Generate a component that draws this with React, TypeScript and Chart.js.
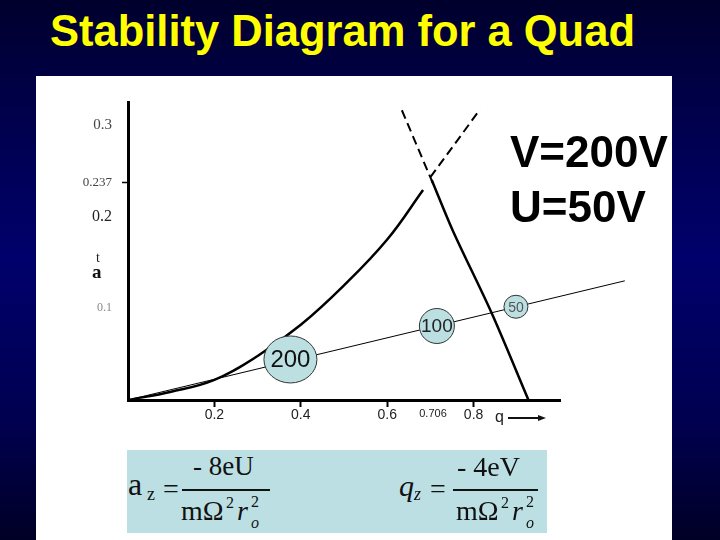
import React, { useEffect, useRef } from 'react';
import { Chart, registerables } from 'chart.js';
Chart.register(...registerables);

// ---- data (q on x, a on y) ----
const leftBoundaryQ = [0, 0.1, 0.2, 0.3, 0.4, 0.5, 0.6, 0.683];
const leftBoundaryA = [0, 0.009, 0.022, 0.048, 0.082, 0.125, 0.175, 0.229];
const rightBoundaryQ = [0.703, 0.753, 0.842, 0.927];
const rightBoundaryA = [0.24, 0.1835, 0.0946, 0.0];
const dashUpLeftQ = [0.634, 0.706];
const dashUpLeftA = [0.316, 0.236];
const dashUpRightQ = [0.7, 0.815];
const dashUpRightA = [0.243, 0.317];
const scanLineQ = [0, 1.15];
const scanLineA = [0, 0.13];
const massLabels = ['200', '100', '50'];
const massQ = [0.376, 0.715, 0.898];
const massA = [0.0442, 0.0807, 0.1017];
const xTickValues = [0.2, 0.4, 0.6, 0.706, 0.8];
const xTickLabels = ['0.2', '0.4', '0.6', '0.706', '0.8'];
const yTickValues = [0.1, 0.2, 0.237, 0.3];
const yTickLabels = ['0.1', '0.2', '0.237', '0.3'];

const pts = (q: number[], a: number[]) => q.map((v, i) => ({ x: v, y: a[i] }));

const bubbleStyle = [
  { rx: 26.5, ry: 23.5, fs: 24, color: '#111' },
  { rx: 17.5, ry: 17.5, fs: 19, color: '#222' },
  { rx: 12, ry: 11.5, fs: 14, color: '#555' },
];

const bubblePlugin = {
  id: 'massBubbles',
  afterDatasetsDraw(chart: any) {
    const idx = chart.data.datasets.findIndex((d: any) => d.label === 'mass');
    const meta = chart.getDatasetMeta(idx);
    const ctx = chart.ctx;
    meta.data.forEach((pt: any, i: number) => {
      const s = bubbleStyle[i];
      ctx.save();
      ctx.beginPath();
      ctx.ellipse(pt.x, pt.y, s.rx, s.ry, 0, 0, Math.PI * 2);
      ctx.fillStyle = '#bcdfe2';
      ctx.fill();
      ctx.lineWidth = 1;
      ctx.strokeStyle = '#333';
      ctx.stroke();
      ctx.fillStyle = s.color;
      ctx.font = `${s.fs}px "Liberation Sans", Arial, sans-serif`;
      ctx.textAlign = 'center';
      ctx.textBaseline = 'middle';
      ctx.fillText(massLabels[i], pt.x, pt.y + 1);
      ctx.restore();
    });
  },
};

const T = (p: { x: number; b: number; fs: number; text: string; italic?: boolean; bold?: boolean; serif?: boolean; color?: string }) => (
  <span
    style={{
      position: 'absolute',
      left: p.x,
      top: p.b - (p.serif ? 0.8375 : 0.8465) * p.fs,
      fontSize: p.fs,
      lineHeight: 1,
      whiteSpace: 'pre',
      fontStyle: p.italic ? 'italic' : 'normal',
      fontWeight: p.bold ? 'bold' : 'normal',
      fontFamily: p.serif ? '"Liberation Serif", "Times New Roman", serif' : '"Liberation Sans", Arial, sans-serif',
      color: p.color || '#111',
    }}
  >
    {p.text}
  </span>
);

export default function App() {
  const canvasRef = useRef<HTMLCanvasElement | null>(null);

  useEffect(() => {
    document.body.style.margin = '0';
    const canvas = canvasRef.current;
    if (!canvas) return;
    const solid = { borderColor: '#000', pointRadius: 0, fill: false };
    const chart = new Chart(canvas, {
      type: 'line',
      data: {
        datasets: [
          { label: 'left', data: pts(leftBoundaryQ, leftBoundaryA), ...solid, borderWidth: 2.5, tension: 0.4 },
          { label: 'right', data: pts(rightBoundaryQ, rightBoundaryA), ...solid, borderWidth: 2.5, tension: 0.3 },
          { label: 'dashL', data: pts(dashUpLeftQ, dashUpLeftA), ...solid, borderWidth: 2, borderDash: [9, 5] },
          { label: 'dashR', data: pts(dashUpRightQ, dashUpRightA), ...solid, borderWidth: 2, borderDash: [9, 5] },
          { label: 'scan', data: pts(scanLineQ, scanLineA), ...solid, borderWidth: 1, clip: false },
          { label: 'mass', data: pts(massQ, massA), ...solid, borderWidth: 0, showLine: false, clip: false },
        ] as any,
      },
      options: {
        animation: false,
        responsive: false,
        devicePixelRatio: 1,
        layout: { padding: { top: 26, right: 112, bottom: 0, left: 0 } },
        plugins: { legend: { display: false }, tooltip: { enabled: false }, title: { display: false } },
        scales: {
          x: {
            type: 'linear',
            position: 'bottom',
            min: 0,
            max: 1.0,
            afterBuildTicks: (s: any) => {
              s.ticks = xTickValues.map((v) => ({ value: v }));
            },
            afterFit: (s: any) => {
              s.height = 46;
            },
            ticks: {
              autoSkip: false,
              maxRotation: 0,
              padding: 0,
              callback: (v: any) => xTickLabels[xTickValues.indexOf(Number(v))] ?? '',
              color: '#222',
              font: (c: any) => ({
                family: '"Liberation Sans", Arial, sans-serif',
                size: c.tick && c.tick.value === 0.706 ? 11 : 14,
              }),
            },
            grid: {
              display: true,
              drawOnChartArea: false,
              drawTicks: true,
              tickLength: 7,
              tickWidth: 2,
              tickColor: (c: any) => (c.tick && c.tick.value === 0.706 ? 'rgba(0,0,0,0)' : '#000'),
            },
            border: { display: true, color: '#000', width: 3 },
          },
          y: {
            type: 'linear',
            position: 'left',
            min: 0,
            max: 0.325,
            afterBuildTicks: (s: any) => {
              s.ticks = yTickValues.map((v) => ({ value: v }));
            },
            afterFit: (s: any) => {
              s.width = 92;
            },
            ticks: {
              autoSkip: false,
              padding: 10,
              callback: (v: any) => yTickLabels[yTickValues.indexOf(Number(v))] ?? '',
              color: (c: any) => {
                const v = c.tick && c.tick.value;
                return v === 0.1 ? '#888' : v === 0.2 ? '#222' : '#444';
              },
              font: (c: any) => {
                const v = c.tick && c.tick.value;
                return {
                  family: '"Liberation Serif", "Times New Roman", serif',
                  size: v === 0.2 ? 16 : v === 0.3 ? 15 : v === 0.1 ? 12 : 13,
                };
              },
            },
            grid: {
              display: true,
              drawOnChartArea: false,
              drawTicks: true,
              tickLength: 6,
              tickWidth: 1.5,
              tickColor: (c: any) => (c.tick && c.tick.value === 0.237 ? '#000' : 'rgba(0,0,0,0)'),
            },
            border: { display: true, color: '#000', width: 3 },
          },
        },
      } as any,
      plugins: [bubblePlugin],
    });
    return () => chart.destroy();
  }, []);

  return (
    <div
      style={{
        position: 'absolute',
        left: 0,
        top: 0,
        width: 720,
        height: 540,
        overflow: 'hidden',
        background: 'linear-gradient(180deg, #00002c 0%, #000048 18%, #00006c 48%, #000050 78%, #000026 100%)',
      }}
    >
      <T x={50} b={47} fs={43.5} bold text="Stability Diagram for a Quad" color="#ffff00" />
      <div style={{ position: 'absolute', left: 36, top: 76, width: 636, height: 464, background: '#fff' }} />
      <canvas ref={canvasRef} width={636} height={370} style={{ position: 'absolute', left: 36, top: 76, width: 636, height: 370 }} />
      <T x={510} b={167} fs={44} bold text="V=200V" color="#000" />
      <T x={510} b={222} fs={44} bold text="U=50V" color="#000" />
      <T x={96} b={263} fs={14} serif text="t" color="#222" />
      <T x={92} b={278} fs={19} serif bold text="a" color="#111" />
      <T x={495} b={423} fs={16} text="q" color="#222" />
      <div style={{ position: 'absolute', left: 508, top: 417, width: 32, height: 2, background: '#111' }} />
      <div
        style={{
          position: 'absolute',
          left: 538,
          top: 415,
          width: 0,
          height: 0,
          borderTop: '3px solid transparent',
          borderBottom: '3px solid transparent',
          borderLeft: '8px solid #111',
        }}
      />
      <div style={{ position: 'absolute', left: 127, top: 450, width: 420, height: 83, background: '#bcdfe4' }} />
      {/* a_z = -8eU / (m Omega^2 r_o^2) */}
      <T x={128} b={495} fs={32} serif text="a" />
      <T x={147} b={500} fs={18} serif text="z" />
      <T x={163} b={498} fs={28} serif text="=" />
      <T x={193} b={476} fs={27} serif text="- 8eU" />
      <div style={{ position: 'absolute', left: 182, top: 489, width: 88, height: 1.5, background: '#111' }} />
      <T x={181} b={520} fs={28} serif text="mΩ" />
      <T x={226} b={508} fs={16} serif text="2" />
      <T x={237} b={520} fs={28} serif italic text="r" />
      <T x={251} b={507} fs={16} serif text="2" />
      <T x={251} b={528} fs={16} serif italic text="o" />
      {/* q_z = -4eV / (m Omega^2 r_o^2) */}
      <T x={399} b={496} fs={30} serif italic text="q" />
      <T x={414} b={500} fs={18} serif italic text="z" />
      <T x={430} b={498} fs={28} serif text="=" />
      <T x={457} b={476} fs={28} serif text="- 4eV" />
      <div style={{ position: 'absolute', left: 453, top: 489, width: 85, height: 1.5, background: '#111' }} />
      <T x={456} b={520} fs={28} serif text="mΩ" />
      <T x={501} b={508} fs={16} serif text="2" />
      <T x={512} b={520} fs={28} serif italic text="r" />
      <T x={526} b={507} fs={16} serif text="2" />
      <T x={526} b={528} fs={16} serif italic text="o" />
    </div>
  );
}
